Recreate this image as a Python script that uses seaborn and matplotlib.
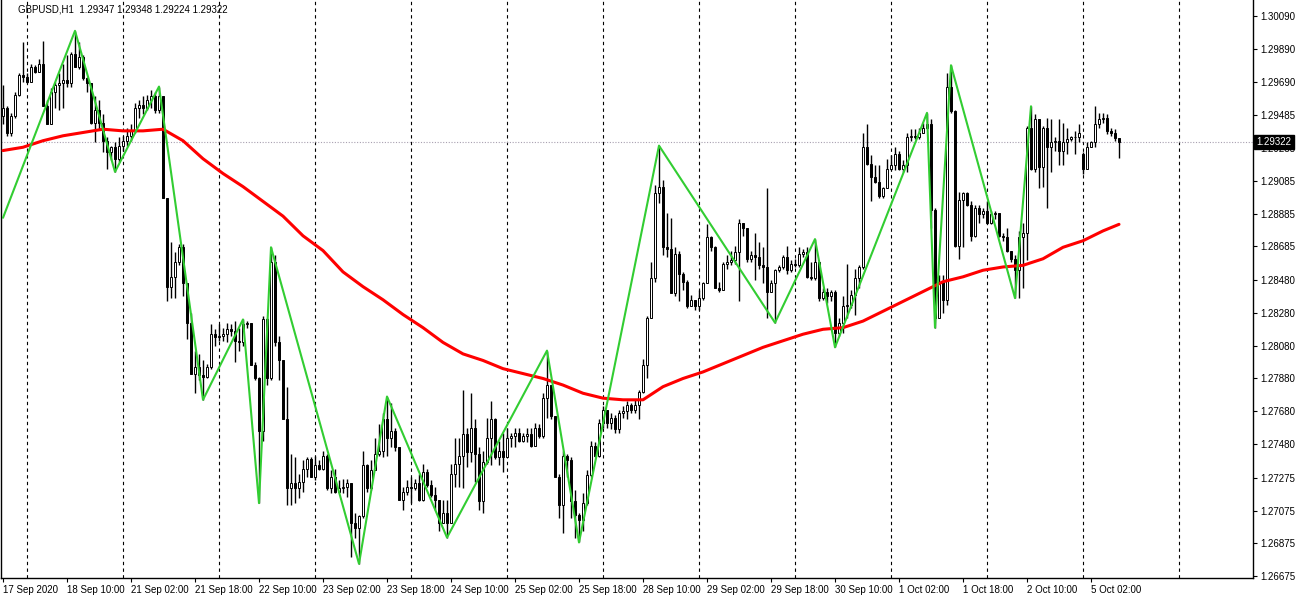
import matplotlib
matplotlib.use("Agg")
import matplotlib.pyplot as plt
import numpy as np
import pandas as pd
import seaborn as sns

# ---- GBPUSD H1 bars (index 0 = 17 Sep 2020 18:00) ----
first_open = 1.2948
gap_opens = {270: 1.2925}   # Monday 5 Oct opens with a gap

close = [
    1.2953, 1.2938, 1.2948, 1.2961, 1.2973, 1.2972, 1.2969, 1.2978, 1.2975, 1.2980,
    1.2954, 1.2943, 1.2963, 1.2967, 1.2968, 1.2970, 1.2968, 1.2986, 1.2978, 1.2984,
    1.2971, 1.2968, 1.2944, 1.2952, 1.2944, 1.2933, 1.2926, 1.2929, 1.2922, 1.2930,
    1.2933, 1.2936, 1.2939, 1.2953, 1.2955, 1.2953, 1.2958, 1.2960, 1.2952, 1.2960,
    1.2898, 1.2844, 1.2850, 1.2859, 1.2868, 1.2846, 1.2822, 1.2791, 1.2795, 1.2790,
    1.2789, 1.2795, 1.2815, 1.2813, 1.2814, 1.2815, 1.2818, 1.2817, 1.2811, 1.2810,
    1.2821, 1.2822, 1.2796, 1.2788, 1.2756, 1.2824, 1.2788, 1.2859, 1.2810, 1.2799,
    1.2763, 1.2721, 1.2724, 1.2721, 1.2725, 1.2733, 1.2739, 1.2728, 1.2735, 1.2733,
    1.2741, 1.2721, 1.2728, 1.2719, 1.2721, 1.2722, 1.2724, 1.2700, 1.2697, 1.2704,
    1.2735, 1.2721, 1.2732, 1.2742, 1.2744, 1.2763, 1.2752, 1.2756, 1.2746, 1.2714,
    1.2719, 1.2722, 1.2721, 1.2724, 1.2714, 1.2731, 1.2723, 1.2717, 1.2714, 1.2700,
    1.2706, 1.2700, 1.2730, 1.2736, 1.2741, 1.2754, 1.2743, 1.2758, 1.2742, 1.2713,
    1.2737, 1.2752, 1.2763, 1.2740, 1.2744, 1.2740, 1.2752, 1.2753, 1.2755, 1.2750,
    1.2753, 1.2754, 1.2747, 1.2758, 1.2753, 1.2776, 1.2784, 1.2765, 1.2728, 1.2711,
    1.2741, 1.2738, 1.2713, 1.2705, 1.2702, 1.2712, 1.2729, 1.2747, 1.2741, 1.2761,
    1.2769, 1.2761, 1.2764, 1.2757, 1.2767, 1.2768, 1.2772, 1.2769, 1.2772, 1.2780,
    1.2796, 1.2825, 1.2849, 1.2901, 1.2905, 1.2868, 1.2867, 1.2840, 1.2864, 1.2852,
    1.2847, 1.2832, 1.2836, 1.2832, 1.2837, 1.2846, 1.2874, 1.2868, 1.2843, 1.2842,
    1.2858, 1.2859, 1.2860, 1.2865, 1.2883, 1.2880, 1.2861, 1.2863, 1.2862, 1.2857,
    1.2856, 1.2841, 1.2846, 1.2854, 1.2856, 1.2862, 1.2854, 1.2858, 1.2857, 1.2864,
    1.2865, 1.2850, 1.2849, 1.2859, 1.2837, 1.2841, 1.2838, 1.2841, 1.2816, 1.2822,
    1.2832, 1.2833, 1.2839, 1.2849, 1.2856, 1.2929, 1.2919, 1.2911, 1.2908, 1.2899,
    1.2904, 1.2916, 1.2918, 1.2925, 1.2916, 1.2918, 1.2935, 1.2936, 1.2935, 1.2938,
    1.2941, 1.2943, 1.2891, 1.2825, 1.2847, 1.2836, 1.2966, 1.2951, 1.2869, 1.2897,
    1.2901, 1.2894, 1.2875, 1.2892, 1.2888, 1.2890, 1.2883, 1.2888, 1.2889, 1.2875,
    1.2874, 1.2866, 1.2861, 1.2854, 1.2874, 1.2877, 1.2941, 1.2916, 1.2946, 1.2917,
    1.2941, 1.2929, 1.2932, 1.2933, 1.2927, 1.2932, 1.2934, 1.2935, 1.2935, 1.2938,
    1.2916, 1.2929, 1.2932, 1.2943, 1.2946, 1.2947, 1.2939, 1.2938, 1.29347, 1.29322,
]

high = [
    1.2967, 1.2954, 1.2950, 1.2963, 1.2974, 1.2993, 1.2974, 1.2980, 1.2979, 1.2983,
    1.2994, 1.2958, 1.2965, 1.2969, 1.2974, 1.2980, 1.2985, 1.2987, 1.3000, 1.2993,
    1.2985, 1.2972, 1.2962, 1.2960, 1.2958, 1.2949, 1.2935, 1.2930, 1.2932, 1.2935,
    1.2936, 1.2941, 1.2943, 1.2956, 1.2958, 1.2960, 1.2961, 1.2964, 1.2963, 1.2966,
    1.2960, 1.2898, 1.2871, 1.2865, 1.2870, 1.2870, 1.2846, 1.2828, 1.2805, 1.2803,
    1.2799, 1.2797, 1.2821, 1.2818, 1.2821, 1.2819, 1.2822, 1.2821, 1.2823, 1.2819,
    1.2824, 1.2823, 1.2822, 1.2798, 1.2789, 1.2826, 1.2825, 1.2868, 1.2863, 1.2814,
    1.2799, 1.2783, 1.2742, 1.2740, 1.2730, 1.2738, 1.2740, 1.2740, 1.2741, 1.2738,
    1.2744, 1.2742, 1.2732, 1.2733, 1.2726, 1.2727, 1.2727, 1.2724, 1.2706, 1.2705,
    1.2744, 1.2736, 1.2738, 1.2752, 1.2760, 1.2767, 1.2777, 1.2773, 1.2758, 1.2746,
    1.2722, 1.2726, 1.2728, 1.2727, 1.2730, 1.2736, 1.2733, 1.2726, 1.2722, 1.2714,
    1.2714, 1.2714, 1.2736, 1.2752, 1.2752, 1.2781, 1.2758, 1.2779, 1.2763, 1.2746,
    1.2744, 1.2764, 1.2774, 1.2764, 1.2750, 1.2755, 1.2758, 1.2755, 1.2758, 1.2758,
    1.2755, 1.2758, 1.2758, 1.2761, 1.2760, 1.2779, 1.2805, 1.2784, 1.2765, 1.2730,
    1.2744, 1.2742, 1.2740, 1.2720, 1.2706, 1.2718, 1.2732, 1.2750, 1.2749, 1.2763,
    1.2771, 1.2769, 1.2767, 1.2766, 1.2769, 1.2771, 1.2774, 1.2773, 1.2775, 1.2781,
    1.2800, 1.2826, 1.2859, 1.2906, 1.2930, 1.2909, 1.2889, 1.2886, 1.2868, 1.2866,
    1.2853, 1.2848, 1.2839, 1.2836, 1.2842, 1.2847, 1.2882, 1.2875, 1.2869, 1.2847,
    1.2859, 1.2863, 1.2866, 1.2869, 1.2885, 1.2883, 1.2880, 1.2866, 1.2877, 1.2871,
    1.2868, 1.2904, 1.2848, 1.2855, 1.2857, 1.2863, 1.2869, 1.2860, 1.2861, 1.2868,
    1.2867, 1.2868, 1.2859, 1.2873, 1.2859, 1.2843, 1.2843, 1.2842, 1.2842, 1.2825,
    1.2838, 1.2858, 1.2842, 1.2855, 1.2857, 1.2938, 1.2943, 1.2924, 1.2918, 1.2918,
    1.2905, 1.2922, 1.2924, 1.2929, 1.2927, 1.2921, 1.2938, 1.2940, 1.2940, 1.2941,
    1.2944, 1.2950, 1.2946, 1.2892, 1.2851, 1.2851, 1.2974, 1.2979, 1.2952, 1.2902,
    1.2902, 1.2902, 1.2896, 1.2894, 1.2894, 1.2892, 1.2896, 1.2890, 1.2890, 1.2888,
    1.2877, 1.2880, 1.2866, 1.2863, 1.2878, 1.2883, 1.2942, 1.2954, 1.2949, 1.2943,
    1.2942, 1.2947, 1.2946, 1.2935, 1.2946, 1.2944, 1.2941, 1.2936, 1.2939, 1.2943,
    1.2926, 1.2932, 1.2933, 1.2954, 1.2950, 1.2950, 1.2949, 1.2941, 1.2940, 1.29348,
]

low = [
    1.2943, 1.2936, 1.2936, 1.2947, 1.2960, 1.2969, 1.2968, 1.2969, 1.2974, 1.2975,
    1.2954, 1.2943, 1.2943, 1.2953, 1.2952, 1.2953, 1.2966, 1.2966, 1.2978, 1.2977,
    1.2970, 1.2963, 1.2943, 1.2932, 1.2940, 1.2926, 1.2916, 1.2921, 1.2914, 1.2920,
    1.2927, 1.2930, 1.2933, 1.2938, 1.2947, 1.2949, 1.2952, 1.2953, 1.2950, 1.2950,
    1.2898, 1.2835, 1.2837, 1.2837, 1.2857, 1.2838, 1.2812, 1.2791, 1.2779, 1.2787,
    1.2775, 1.2788, 1.2794, 1.2808, 1.2811, 1.2811, 1.2810, 1.2814, 1.2798, 1.2805,
    1.2808, 1.2819, 1.2796, 1.2787, 1.2712, 1.2750, 1.2784, 1.2787, 1.2808, 1.2787,
    1.2763, 1.2711, 1.2711, 1.2712, 1.2715, 1.2719, 1.2728, 1.2728, 1.2726, 1.2732,
    1.2732, 1.2720, 1.2718, 1.2718, 1.2718, 1.2718, 1.2716, 1.2679, 1.2691, 1.2675,
    1.2703, 1.2719, 1.2720, 1.2734, 1.2741, 1.2740, 1.2741, 1.2746, 1.2744, 1.2714,
    1.2708, 1.2717, 1.2712, 1.2720, 1.2713, 1.2713, 1.2722, 1.2716, 1.2708, 1.2695,
    1.2700, 1.2691, 1.2700, 1.2722, 1.2722, 1.2721, 1.2734, 1.2737, 1.2725, 1.2708,
    1.2706, 1.2736, 1.2735, 1.2739, 1.2735, 1.2731, 1.2740, 1.2746, 1.2746, 1.2749,
    1.2749, 1.2749, 1.2746, 1.2747, 1.2752, 1.2752, 1.2764, 1.2763, 1.2728, 1.2703,
    1.2694, 1.2728, 1.2703, 1.2691, 1.2688, 1.2695, 1.2711, 1.2728, 1.2740, 1.2740,
    1.2758, 1.2758, 1.2757, 1.2755, 1.2755, 1.2764, 1.2763, 1.2767, 1.2767, 1.2763,
    1.2779, 1.2788, 1.2825, 1.2847, 1.2895, 1.2863, 1.2862, 1.2840, 1.2838, 1.2835,
    1.2842, 1.2831, 1.2832, 1.2830, 1.2830, 1.2836, 1.2846, 1.2866, 1.2843, 1.2841,
    1.2842, 1.2855, 1.2857, 1.2858, 1.2835, 1.2875, 1.2859, 1.2859, 1.2848, 1.2855,
    1.2846, 1.2825, 1.2841, 1.2822, 1.2853, 1.2855, 1.2852, 1.2853, 1.2856, 1.2856,
    1.2862, 1.2849, 1.2848, 1.2848, 1.2835, 1.2836, 1.2834, 1.2835, 1.2807, 1.2814,
    1.2816, 1.2825, 1.2831, 1.2827, 1.2843, 1.2855, 1.2918, 1.2896, 1.2907, 1.2898,
    1.2898, 1.2904, 1.2915, 1.2915, 1.2915, 1.2914, 1.2914, 1.2933, 1.2934, 1.2934,
    1.2938, 1.2940, 1.2880, 1.2819, 1.2825, 1.2828, 1.2833, 1.2950, 1.2868, 1.2861,
    1.2868, 1.2893, 1.2872, 1.2874, 1.2883, 1.2886, 1.2882, 1.2882, 1.2885, 1.2874,
    1.2872, 1.2865, 1.2859, 1.2837, 1.2837, 1.2843, 1.2860, 1.2915, 1.2914, 1.2904,
    1.2905, 1.2892, 1.2914, 1.2927, 1.2918, 1.2918, 1.2925, 1.2933, 1.2925, 1.2932,
    1.2913, 1.2916, 1.2929, 1.2929, 1.2941, 1.2944, 1.2937, 1.2936, 1.2933, 1.29224,
]

# red moving average, sampled along the bars
ma_bar = [0, 5, 10, 15, 20, 25, 30, 35, 40, 45, 50, 55, 60, 65, 70, 75, 80, 85,
          90, 95, 100, 105, 110, 115, 120, 125, 130, 135, 140, 145, 150, 155, 160,
          165, 170, 175, 180, 185, 190, 195, 200, 205, 210, 215, 220, 225, 230,
          235, 240, 245, 250, 255, 260, 265, 270, 275, 279]
ma_price = [1.2927, 1.2929, 1.2933, 1.2936, 1.2938, 1.2940, 1.2939, 1.2939, 1.2940,
            1.2933, 1.2922, 1.2913, 1.2905, 1.2896, 1.2887, 1.2875, 1.2866, 1.2853,
            1.2844, 1.2836, 1.2827, 1.2819, 1.2810, 1.2803, 1.2799, 1.2794, 1.2791,
            1.2788, 1.2784, 1.2779, 1.2776, 1.2775, 1.2775, 1.2783, 1.2788, 1.2792,
            1.2797, 1.2802, 1.2807, 1.2811, 1.2815, 1.2818, 1.2819, 1.2823, 1.2829,
            1.2835, 1.2841, 1.2847, 1.2850, 1.2854, 1.2856, 1.2857, 1.2861, 1.2868,
            1.2872, 1.2878, 1.2882]

# green zigzag pivots
zz_bar = [0, 18, 28, 39, 50, 60, 64, 67, 89, 96, 111, 136, 144, 164, 193, 203,
          208, 231, 233, 237, 253, 257]
zz_price = [1.2886, 1.3000, 1.2914, 1.2966, 1.2775, 1.2824, 1.2712, 1.2868, 1.2675,
            1.2777, 1.2691, 1.2805, 1.2688, 1.2930, 1.2822, 1.2873, 1.2807, 1.2950,
            1.2819, 1.2979, 1.2837, 1.2954]

date_labels = ["17 Sep 2020", "18 Sep 10:00", "21 Sep 02:00", "21 Sep 18:00",
               "22 Sep 10:00", "23 Sep 02:00", "23 Sep 18:00", "24 Sep 10:00",
               "25 Sep 02:00", "25 Sep 18:00", "28 Sep 10:00", "29 Sep 02:00",
               "29 Sep 18:00", "30 Sep 10:00", "1 Oct 02:00", "1 Oct 18:00",
               "2 Oct 10:00", "5 Oct 02:00"]
price_ticks = [1.30090, 1.29890, 1.29690, 1.29485, 1.29285, 1.29085, 1.28885,
               1.28685, 1.28480, 1.28280, 1.28080, 1.27880, 1.27680, 1.27480,
               1.27275, 1.27075, 1.26875, 1.26675]
last_price = 1.29322
header = "GBPUSD,H1  1.29347 1.29348 1.29224 1.29322"

# ---- build bar table ----
n = len(close)
opens = [first_open] + close[:-1]
for k, v in gap_opens.items():
    opens[k] = v
df = pd.DataFrame({"bar": np.arange(n), "open": opens, "high": high,
                   "low": low, "close": close})
df["high"] = df[["high", "open", "close"]].max(axis=1)
df["low"] = df[["low", "open", "close"]].min(axis=1)
bull = df["close"] >= df["open"]
body_lo = df[["open", "close"]].min(axis=1)
body_h = (df["close"] - df["open"]).abs().clip(lower=0.000015)

sns.set_style("white")
plt.rcParams["font.family"] = ["Liberation Sans", "DejaVu Sans"]
plt.rcParams["text.color"] = "black"

fig = plt.figure(figsize=(13, 6), dpi=100)
ax = fig.add_axes([1 / 1300, 22 / 600, 1252 / 1300, 578 / 600])

# day separators
for d in range(6, 300, 24):
    ax.axvline(d, color="black", lw=0.8, ls=(0, (3, 3)), zorder=1)

ax.axhline(last_price, color="#a8a0b0", lw=0.8, ls=(0, (1, 1.5)), zorder=1)

# candles
ax.vlines(df["bar"], df["low"], df["high"], color="black", lw=1, zorder=2)
ax.bar(df["bar"], body_h, bottom=body_lo, width=0.55,
       color=np.where(bull, "white", "black"), edgecolor="black",
       linewidth=0.7, zorder=3)

sns.lineplot(x=ma_bar, y=ma_price, ax=ax, color="red", lw=2.2, zorder=4,
             solid_joinstyle="round", solid_capstyle="round")
sns.lineplot(x=zz_bar, y=zz_price, ax=ax, color="#32cd32", lw=1.5, zorder=5)

ax.set_xlim(-0.5, 312.5)
ax.set_ylim(1.266634, 1.30188)

ax.set_xticks(list(range(0, 16 * len(date_labels), 16)))
ax.set_xticklabels(date_labels, ha="left")
ax.yaxis.tick_right()
ax.set_yticks(price_ticks)
ax.set_yticklabels([f"{p:.5f}" for p in price_ticks])
ax.tick_params(axis="both", which="major", direction="out", length=3, width=0.8,
               color="black", labelsize=7, labelcolor="black", pad=2)
ax.tick_params(bottom=True, right=True, left=False, top=False,
               labelright=True, labelleft=False)
ax.set_xlabel("")
ax.set_ylabel("")

ax.spines["top"].set_visible(False)
for s in ["left", "right", "bottom"]:
    ax.spines[s].set_color("black")
    ax.spines[s].set_linewidth(1)

ax.annotate(f"{last_price:.5f}", xy=(1, last_price),
            xycoords=ax.get_yaxis_transform(), xytext=(2.5, 0),
            textcoords="offset points", va="center", ha="left", color="white",
            fontsize=7, zorder=10,
            bbox=dict(boxstyle="square,pad=0.25", fc="black", ec="black"))

fig.text(18 / 1300, 1 - 10 / 600, header, fontsize=7, va="center", ha="left")

fig.savefig("out.png", dpi=100, facecolor="white")
